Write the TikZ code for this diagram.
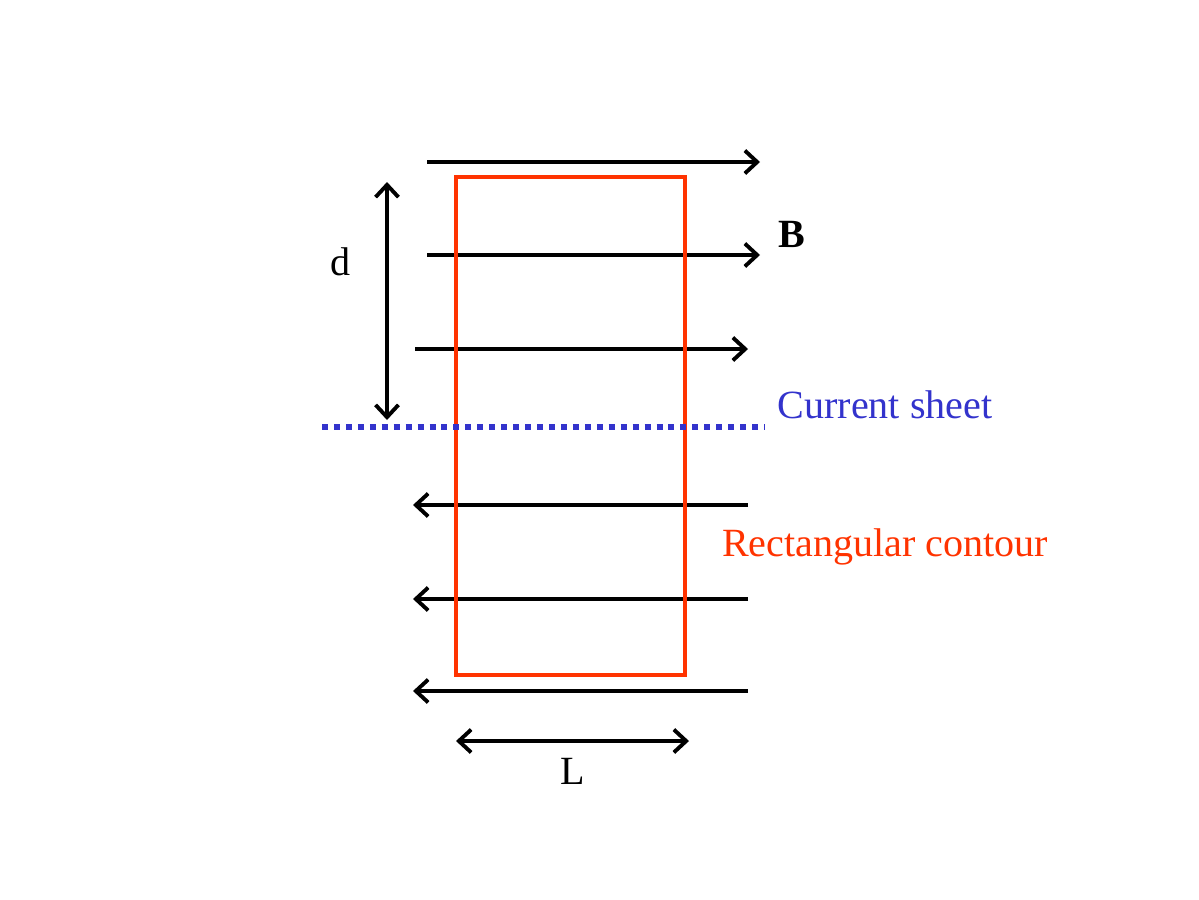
\documentclass[tikz,border=0pt]{standalone}
\usepackage{fontspec}
\setmainfont{Liberation Serif}
\usetikzlibrary{arrows.meta}
\begin{document}
\begin{tikzpicture}[x=0.02cm,y=-0.02cm,
  fld/.style={line width=2.2pt,-{Straight Barb[length=7pt,width=13pt,line width=2.2pt]}},
  dim/.style={line width=2.2pt,{Straight Barb[length=7pt,width=13pt,line width=2.2pt]}-{Straight Barb[length=7pt,width=13pt,line width=2.2pt]}},
  lbl/.style={font=\fontsize{22.8}{27}\selectfont}]
\useasboundingbox (0,0) rectangle (1199,899);
\definecolor{cred}{RGB}{255,51,0}
\definecolor{cblue}{RGB}{51,51,204}
\coordinate (r1a) at (427,162); \coordinate (r1b) at (760,162);
\coordinate (r2a) at (427,255); \coordinate (r2b) at (760,255);
\coordinate (r3a) at (415,349); \coordinate (r3b) at (748,349);
\coordinate (l1a) at (748,505); \coordinate (l1b) at (413,505);
\coordinate (l2a) at (748,599); \coordinate (l2b) at (413,599);
\coordinate (l3a) at (748,691); \coordinate (l3b) at (413,691);
\draw[fld] (r1a)--(r1b); \draw[fld] (r2a)--(r2b); \draw[fld] (r3a)--(r3b);
\draw[fld] (l1a)--(l1b); \draw[fld] (l2a)--(l2b); \draw[fld] (l3a)--(l3b);
\draw[cred,line width=2.2pt] (456,177) rectangle (685,675);
\coordinate (s1) at (322,427); \coordinate (s2) at (765,427);
\draw[cblue,line width=3.4pt,dash pattern=on 3.4pt off 3.4pt] (s1)--(s2);
\coordinate (d1) at (387,182); \coordinate (d2) at (387,420);
\draw[dim] (d1)--(d2);
\coordinate (L1) at (456,741); \coordinate (L2) at (689,741);
\draw[dim] (L1)--(L2);
\node[lbl] (dl) at (341,262) {d};
\node[lbl] (Ll) at (573,771) {L};
\node[lbl,font=\fontsize{22.8}{27}\selectfont\bfseries] (Bl) at (792,234) {B};
\node[lbl,text=cblue] (cs) at (885,405) {Current sheet};
\node[lbl,text=cred] (rc) at (885,547) {Rectangular contour};
\end{tikzpicture}
\end{document}
